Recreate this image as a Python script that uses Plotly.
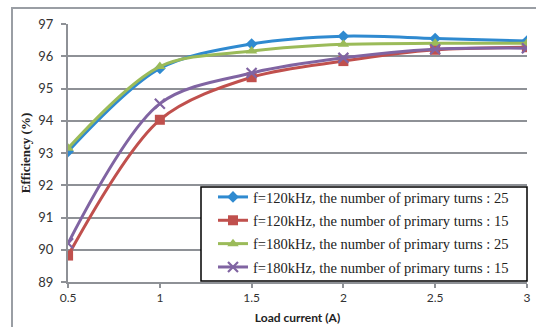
import plotly.graph_objects as go

load_current = [0.5, 1, 1.5, 2, 2.5, 3]
eff_120k_25 = [93.05, 95.62, 96.38, 96.62, 96.55, 96.47]
eff_120k_15 = [89.82, 94.03, 95.35, 95.85, 96.2, 96.28]
eff_180k_25 = [93.15, 95.68, 96.16, 96.37, 96.4, 96.4]
eff_180k_15 = [90.2, 94.53, 95.48, 95.95, 96.22, 96.25]

names = [
    "f=120kHz, the number of primary turns : 25",
    "f=120kHz, the number of primary turns : 15",
    "f=180kHz, the number of primary turns : 25",
    "f=180kHz, the number of primary turns : 15",
]
colors = ["#2f8ad0", "#c0504d", "#9bbb59", "#8064a2"]
symbols = ["diamond", "square", "triangle-up", "x-thin"]
sizes = [9, 10, 10, 10]
series = [eff_120k_25, eff_120k_15, eff_180k_25, eff_180k_15]

fig = go.Figure()
for i, (nm, ys, c, s, sz) in enumerate(zip(names, series, colors, symbols, sizes)):
    mk = dict(symbol=s, size=sz, color=c)
    if s == "x-thin":
        mk["line"] = dict(color=c, width=2.2)
    fig.add_trace(go.Scatter(
        x=load_current, y=ys, name=nm, mode="lines+markers",
        legendgroup="g%d" % i,
        line=dict(color=c, width=3, shape="spline", smoothing=0.9),
        marker=mk,
    ))

W, H = 536, 327
L, T = 68, 24
pw, ph = 459, 258
R, B = W - L - pw, H - T - ph

def px_x(p):
    return (p - L) / pw

def px_y(p):
    return 1 - (p - T) / ph

fig.update_layout(
    width=W, height=H,
    margin=dict(l=L, r=R, t=T, b=B, autoexpand=False),
    paper_bgcolor="white", plot_bgcolor="white",
    showlegend=True,
    legend=dict(
        x=px_x(213), y=px_y(181), xanchor="left", yanchor="top",
        borderwidth=0, bgcolor="rgba(0,0,0,0)",
        font=dict(family="Liberation Serif", size=14.5, color="#222"),
        tracegroupgap=1.5, itemwidth=30,
    ),
    xaxis=dict(
        range=[0.4995, 3.0005], tickvals=[0.5, 1, 1.5, 2, 2.5, 3],
        ticktext=["0.5", "1", "1.5", "2", "2.5", "3"],
        automargin=False,
        showgrid=False, zeroline=False,
        showline=True, linecolor="#8e9196", linewidth=2,
        ticks="outside", ticklen=4, tickwidth=2, tickcolor="#8e9196",
        ticklabeloverflow="allow",
        tickfont=dict(family="Lato", size=12, color="#333"),
        title=dict(text="<b>Load current (A)</b>", standoff=9,
                   font=dict(family="Lato", size=12, color="#222")),
    ),
    yaxis=dict(
        range=[89, 97], dtick=1,
        automargin=False,
        showgrid=True, gridcolor="#8e9196", gridwidth=2,
        zeroline=False,
        showline=True, linecolor="#8e9196", linewidth=2,
        ticks="outside", ticklen=5, tickwidth=2, tickcolor="#8e9196",
        ticklabelstandoff=5,
        tickfont=dict(family="Lato", size=13, color="#333"),
        title=dict(text="<b>Efficiency (%)</b>", standoff=5,
                   font=dict(family="Liberation Serif", size=13, color="#222")),
    ),
)

# outer chart border (left and top edges visible; right/bottom lie off-page)
fig.add_shape(type="rect", xref="paper", yref="paper",
              x0=px_x(12), x1=px_x(620), y0=px_y(400), y1=px_y(8),
              line=dict(color="#9a9ea4", width=2), layer="below")
# legend box
fig.add_shape(type="rect", xref="paper", yref="paper",
              x0=px_x(201), x1=px_x(527), y0=px_y(281), y1=px_y(187),
              line=dict(color="black", width=1.5), fillcolor="white",
              layer="above")

fig.write_html(
    "out.html",
    config={"displayModeBar": False},
    post_script="document.body.style.margin='0';document.body.style.padding='0';"
                "document.body.style.overflow='hidden';",
)
